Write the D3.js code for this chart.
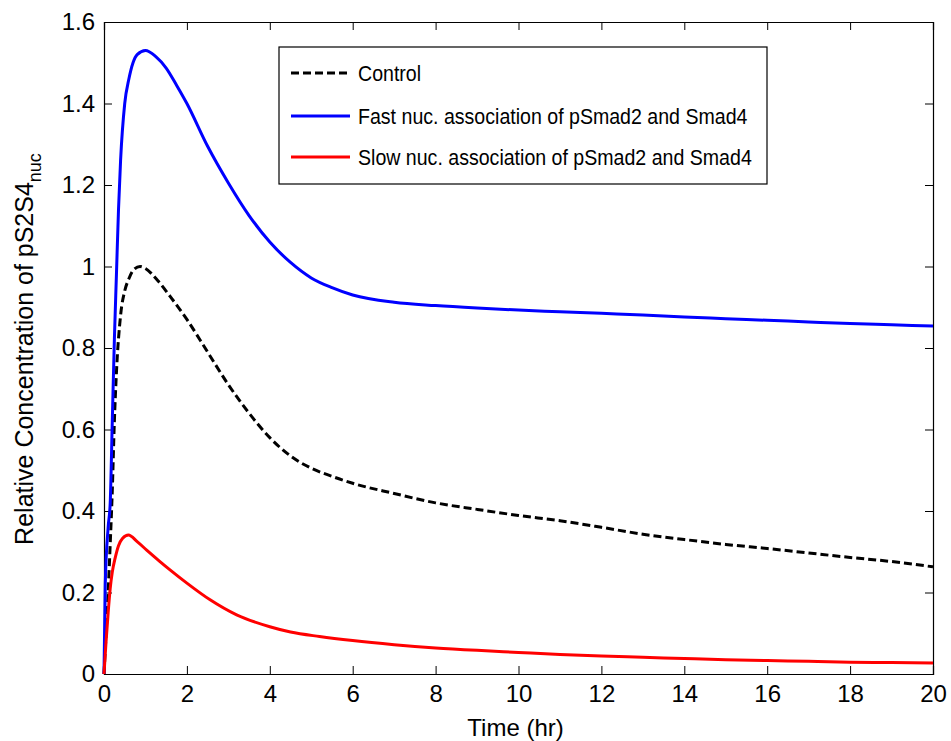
<!DOCTYPE html>
<html>
<head>
<meta charset="utf-8">
<script src="https://cdn.jsdelivr.net/npm/d3@7"></script>
<style>
  body { margin: 0; background: #fff; }
  svg text { font-family: "Liberation Sans", Arial, sans-serif; fill: #000; }
</style>
</head>
<body>
<svg width="951" height="741"></svg>
<script>
// values
const controlTime = [0, 0.05, 0.1, 0.15, 0.2, 0.25, 0.3, 0.4, 0.5, 0.6, 0.7, 0.87, 1.0, 1.3, 1.6, 2.0, 2.5, 3.0, 3.5, 4.0, 4.5, 5, 5.5, 6, 7, 8, 9, 10, 11, 12, 13, 14, 15, 16, 17, 18, 19, 20];
const control = [0, 0.1, 0.2, 0.32, 0.45, 0.62, 0.74, 0.88, 0.94, 0.97, 0.99, 1.0, 0.995, 0.965, 0.926, 0.87, 0.79, 0.71, 0.64, 0.58, 0.535, 0.505, 0.485, 0.468, 0.443, 0.42, 0.404, 0.389, 0.376, 0.36, 0.343, 0.33, 0.318, 0.308, 0.297, 0.286, 0.276, 0.263];

const fastTime = [0, 0.03, 0.1, 0.15, 0.2, 0.25, 0.3, 0.35, 0.4, 0.5, 0.6, 0.7, 0.8, 1.0, 1.25, 1.5, 1.75, 2.0, 2.5, 3.0, 3.5, 4.0, 4.5, 5.0, 5.5, 6, 7, 8, 9, 10, 11, 12, 13, 14, 15, 16, 17, 18, 19, 20];
const fast = [0, 0.22, 0.36, 0.42, 0.62, 0.82, 0.98, 1.14, 1.26, 1.40, 1.46, 1.50, 1.52, 1.53, 1.515, 1.487, 1.445, 1.40, 1.295, 1.205, 1.125, 1.06, 1.01, 0.972, 0.948, 0.93, 0.912, 0.904, 0.898, 0.893, 0.889, 0.885, 0.881, 0.876, 0.872, 0.868, 0.864, 0.86, 0.857, 0.854];

const slowTime = [0, 0.05, 0.1, 0.15, 0.2, 0.27, 0.35, 0.45, 0.59, 0.8, 1.03, 1.35, 1.6, 2.0, 2.56, 3.2, 4.0, 4.5, 5.2, 6, 7, 8, 9, 10, 11, 12, 13, 14, 15, 16, 17, 18, 19, 20];
const slow = [0, 0.08, 0.15, 0.21, 0.25, 0.285, 0.315, 0.333, 0.341, 0.325, 0.304, 0.276, 0.255, 0.223, 0.182, 0.145, 0.116, 0.103, 0.092, 0.082, 0.072, 0.064, 0.058, 0.053, 0.048, 0.044, 0.041, 0.038, 0.035, 0.033, 0.031, 0.029, 0.028, 0.027];

const xTicks = [0, 2, 4, 6, 8, 10, 12, 14, 16, 18, 20];
const yTicks = [0, 0.2, 0.4, 0.6, 0.8, 1, 1.2, 1.4, 1.6];

const series = [
  { name: 'Control', t: controlTime, v: control, color: '#000', dash: '8,4' },
  { name: 'Fast nuc. association of pSmad2 and Smad4', t: fastTime, v: fast, color: '#0000ff', dash: null },
  { name: 'Slow nuc. association of pSmad2 and Smad4', t: slowTime, v: slow, color: '#ff0000', dash: null }
];

const svg = d3.select('svg');
const marg = { top: 22, right: 18, bottom: 67, left: 104 };
const innerW = 933 - marg.left;
const innerH = 674 - marg.top;

const x = d3.scaleLinear().domain([0, 20]).range([0, innerW]);
const y = d3.scaleLinear().domain([0, 1.6]).range([innerH, 0]);

const g = svg.append('g').attr('transform', `translate(${marg.left},${marg.top})`);

const fmt = d => d3.format('~g')(d);

// axes with inside ticks, matlab style box
g.append('g').attr('transform', `translate(0,${innerH})`)
  .call(d3.axisBottom(x).tickValues(xTicks).tickSize(-8).tickPadding(11).tickFormat(fmt))
  .call(a => a.selectAll('text').style('font-size', '24px'));
g.append('g')
  .call(d3.axisTop(x).tickValues(xTicks).tickSize(-8).tickFormat(''));
g.append('g')
  .call(d3.axisLeft(y).tickValues(yTicks).tickSize(-8).tickPadding(9).tickFormat(fmt))
  .call(a => a.selectAll('text').style('font-size', '24px'));
g.append('g').attr('transform', `translate(${innerW},0)`)
  .call(d3.axisRight(y).tickValues(yTicks).tickSize(-8).tickFormat(''));

g.selectAll('.domain').attr('stroke', '#000').attr('stroke-width', 1.2);
g.selectAll('.tick line').attr('stroke', '#000');

// lines
const line = d3.line().curve(d3.curveMonotoneX);
series.forEach(s => {
  g.append('path')
    .attr('d', line(s.t.map((t, i) => [x(t), y(s.v[i])])))
    .attr('fill', 'none')
    .attr('stroke', s.color)
    .attr('stroke-width', 3)
    .attr('stroke-dasharray', s.dash);
});

// axis labels
svg.append('text')
  .attr('x', marg.left + innerW / 2 - 3)
  .attr('y', 736)
  .attr('text-anchor', 'middle')
  .style('font-size', '24px')
  .text('Time (hr)');

const yl = svg.append('text')
  .attr('transform', `translate(33,349) rotate(-90)`)
  .attr('text-anchor', 'middle')
  .style('font-size', '25px');
yl.append('tspan').text('Relative Concentration of pS2S4');
yl.append('tspan').attr('dy', 8).style('font-size', '18px').text('nuc');

// legend
const leg = svg.append('g');
leg.append('rect')
  .attr('x', 279).attr('y', 47).attr('width', 488).attr('height', 137)
  .attr('fill', '#fff').attr('stroke', '#000').attr('stroke-width', 1.2);
const rowsY = [73, 116, 157];
series.forEach((s, i) => {
  leg.append('line')
    .attr('x1', 291).attr('x2', 350)
    .attr('y1', rowsY[i]).attr('y2', rowsY[i])
    .attr('stroke', s.color).attr('stroke-width', 3)
    .attr('stroke-dasharray', s.dash);
  leg.append('text')
    .attr('transform', `translate(358,${rowsY[i]}) scale(0.89,1)`)
    .attr('dy', '0.35em')
    .style('font-size', '22px')
    .text(s.name);
});
</script>
</body>
</html>
